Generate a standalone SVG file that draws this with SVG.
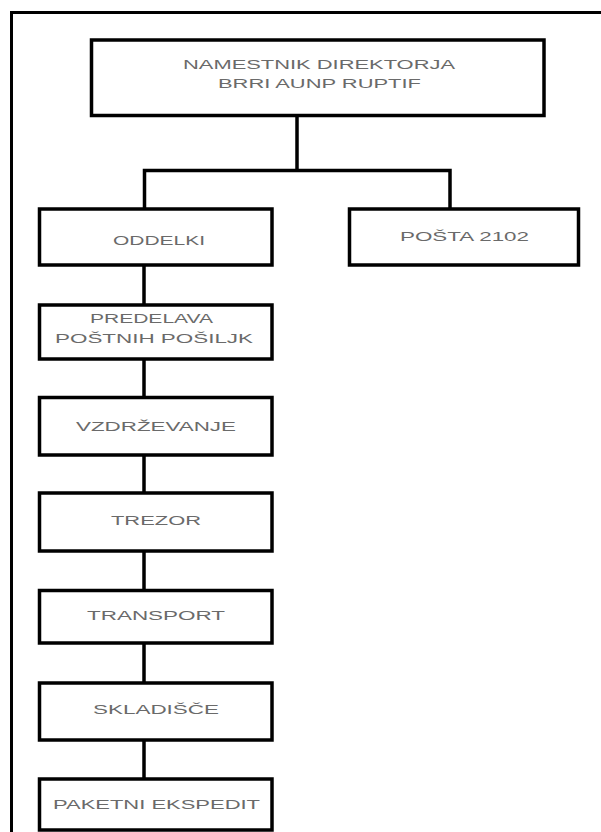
<svg xmlns="http://www.w3.org/2000/svg" width="601" height="832" viewBox="0 0 601 832">
<style>
.box{fill:#fff;stroke:#000;stroke-width:3.5}
.ln{fill:none;stroke:#000;stroke-width:3.5}
.fr{fill:none;stroke:#000;stroke-width:3}
.t{font-family:"Liberation Sans",Arial,sans-serif;font-size:12px;fill:#6a6a6a;text-anchor:middle}
</style>
<rect width="601" height="832" fill="#fff"/>
<path class="fr" d="M10,12.5 H601 M11.5,11 V832"/>
<g id="connectors">
<path class="ln" d="M297,115.5 V170.5 M144.5,209 V170.5 H450 V209"/>
<path class="ln" d="M144,265 V305 M144,359 V397.5 M144,455 V493 M144,551 V590.5 M144,643 V683 M144,740 V779"/>
</g>
<g id="n-namestnik">
<rect class="box" x="91.5" y="40" width="452.5" height="75.5"/>
<text class="t" x="319" y="69" textLength="272" lengthAdjust="spacingAndGlyphs">NAMESTNIK DIREKTORJA</text>
<text class="t" x="319.5" y="87.5" textLength="203" lengthAdjust="spacingAndGlyphs">BRRI AUNP RUPTIF</text>
</g>
<g id="n-oddelki">
<rect class="box" x="39.5" y="209" width="232.5" height="56"/>
<text class="t" x="159" y="245" textLength="92" lengthAdjust="spacingAndGlyphs">ODDELKI</text>
</g>
<g id="n-posta">
<rect class="box" x="349.5" y="209" width="229" height="56"/>
<text class="t" x="464.5" y="240.5" textLength="129" lengthAdjust="spacingAndGlyphs">POŠTA 2102</text>
</g>
<g id="n-predelava">
<rect class="box" x="39.5" y="305" width="232.5" height="54"/>
<text class="t" x="151.5" y="322.5" textLength="123" lengthAdjust="spacingAndGlyphs">PREDELAVA</text>
<text class="t" x="154" y="342.5" textLength="198" lengthAdjust="spacingAndGlyphs">POŠTNIH POŠILJK</text>
</g>
<g id="n-vzdrzevanje">
<rect class="box" x="39.5" y="397.5" width="232.5" height="57.5"/>
<text class="t" x="156" y="430.5" textLength="160" lengthAdjust="spacingAndGlyphs">VZDRŽEVANJE</text>
</g>
<g id="n-trezor">
<rect class="box" x="39.5" y="493" width="232.5" height="58"/>
<text class="t" x="156" y="525" textLength="90" lengthAdjust="spacingAndGlyphs">TREZOR</text>
</g>
<g id="n-transport">
<rect class="box" x="39.5" y="590.5" width="232.5" height="52.5"/>
<text class="t" x="156" y="619.5" textLength="138" lengthAdjust="spacingAndGlyphs">TRANSPORT</text>
</g>
<g id="n-skladisce">
<rect class="box" x="39.5" y="683" width="232.5" height="57"/>
<text class="t" x="156" y="714" textLength="126" lengthAdjust="spacingAndGlyphs">SKLADIŠČE</text>
</g>
<g id="n-paketni">
<rect class="box" x="39.5" y="779" width="232.5" height="51"/>
<text class="t" x="156.5" y="808.5" textLength="207" lengthAdjust="spacingAndGlyphs">PAKETNI EKSPEDIT</text>
</g>
</svg>
